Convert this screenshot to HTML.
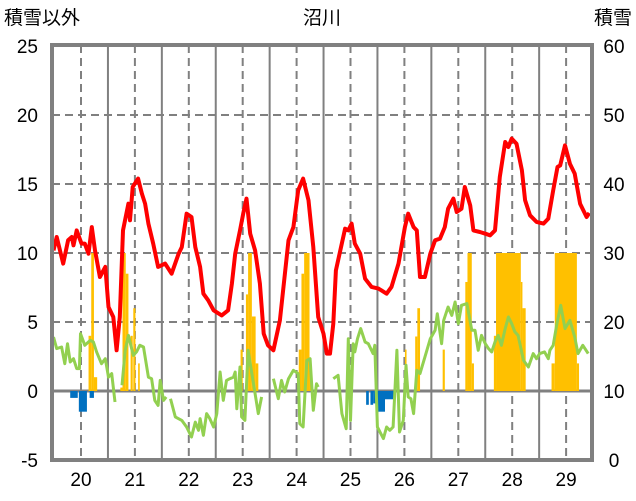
<!DOCTYPE html>
<html><head><meta charset="utf-8"><style>
html,body{margin:0;padding:0;background:#fff;}
svg{display:block;font-family:"Liberation Sans","Noto Sans CJK JP",sans-serif;}
</style></head><body>
<svg id="chart" width="636" height="501" viewBox="0 0 636 501" xmlns="http://www.w3.org/2000/svg">
<text x="4" y="24" font-size="19" fill="#000">積雪以外</text>
<text x="322" y="24" font-size="19" text-anchor="middle" fill="#000">沼川</text>
<text x="632" y="24" font-size="19" text-anchor="end" fill="#000">積雪</text>
<g id="grid"></g>
<g id="bars"></g>
<g id="lines"></g>
<g id="axes"></g>
</svg>
<script>
const xLabels=[20,21,22,23,24,25,26,27,28,29];
const leftTicks=[-5,0,5,10,15,20,25];
const rightTicks=[0,10,20,30,40,50,60];
const redT=[19.49,19.55,19.67,19.76,19.83,19.86,19.92,20.01,20.07,20.14,20.20,20.26,20.35,20.45,20.51,20.60,20.66,20.72,20.78,20.88,20.91,20.96,21.06,21.13,21.19,21.25,21.34,21.43,21.56,21.68,21.81,21.87,21.96,22.05,22.12,22.21,22.27,22.36,22.46,22.61,22.73,22.80,22.86,22.95,23.01,23.07,23.14,23.23,23.32,23.39,23.47,23.57,23.69,23.85,23.94,24.03,24.12,24.22,24.31,24.40,24.50,24.56,24.62,24.68,24.73,24.81,24.90,24.96,25.02,25.08,25.18,25.27,25.39,25.52,25.67,25.76,25.89,26.01,26.07,26.17,26.23,26.29,26.38,26.48,26.57,26.66,26.75,26.81,26.91,26.97,27.06,27.12,27.22,27.28,27.40,27.50,27.59,27.68,27.77,27.87,27.93,27.99,28.08,28.18,28.24,28.33,28.45,28.58,28.67,28.76,28.84,28.89,28.98,29.07,29.16,29.26,29.38,29.43];
const redV=[10.19,11.16,9.23,10.92,11.16,10.56,11.64,10.68,10.68,9.95,11.88,10.19,8.26,8.99,6.09,5.36,2.95,5.36,11.64,13.57,12.37,14.78,15.39,14.30,13.57,12.13,10.68,8.99,9.23,8.50,9.95,10.43,12.85,12.61,10.43,8.99,7.05,6.57,5.85,5.48,5.85,7.78,9.95,11.64,12.85,13.94,11.40,10.19,7.78,4.15,3.31,2.95,5.12,10.92,11.88,14.54,15.39,13.82,10.43,5.36,4.15,2.71,2.71,4.88,8.74,10.19,11.76,11.64,12.13,10.68,9.95,8.14,7.54,7.42,7.05,7.54,9.23,11.88,12.85,11.88,11.64,8.26,8.26,9.95,10.92,11.04,11.88,13.21,13.94,12.97,13.21,14.78,13.45,11.64,11.52,11.40,11.28,11.64,15.51,18.04,17.68,18.29,17.92,15.99,13.82,12.73,12.25,12.13,12.49,14.54,16.23,16.35,17.80,16.47,15.75,13.57,12.61,12.90];
const greenT=[19.49,19.55,19.64,19.70,19.75,19.80,19.86,19.92,19.97,19.99,20.07,20.17,20.23,20.29,20.38,20.45,20.51,20.57,20.63,null,20.76,20.82,20.88,20.97,21.03,21.09,21.16,21.25,21.31,21.37,21.43,21.47,21.53,21.58,null,21.66,21.75,21.87,21.96,22.05,22.12,22.18,22.21,22.27,22.33,22.39,22.46,22.52,22.58,22.64,22.70,22.76,22.83,22.86,22.89,22.95,22.98,23.04,23.10,23.20,23.29,23.35,null,23.57,23.66,23.72,23.78,23.85,23.94,24.03,24.06,24.12,24.19,24.25,24.31,24.37,24.40,null,24.68,24.77,24.84,24.92,24.96,25.00,25.05,25.08,25.13,25.19,25.27,25.33,25.42,25.45,25.50,25.61,25.67,25.73,25.79,25.86,25.91,25.98,26.03,26.07,26.12,26.17,26.23,26.29,26.38,26.48,26.57,26.61,26.69,26.73,26.81,26.88,26.94,27.00,27.06,27.16,27.25,27.31,27.37,27.43,27.50,27.56,27.62,27.68,27.74,27.80,27.87,27.93,27.99,28.05,28.11,28.21,28.30,28.39,28.45,28.51,28.60,28.67,28.70,28.76,28.83,28.90,28.98,29.07,29.16,29.22,29.31,29.41];
const greenV=[3.91,3.07,3.19,1.98,3.43,2.10,2.34,1.62,1.62,4.15,3.31,3.67,3.55,2.83,1.98,2.34,1.01,1.26,-0.80,null,0.41,2.95,4.03,2.58,2.83,3.31,3.19,1.01,0.89,-0.68,-1.04,0.77,-0.68,-0.43,null,-0.56,-1.88,-2.13,-2.61,-3.33,-2.25,-2.85,-2.00,-3.21,-1.64,-2.00,-2.61,-1.64,1.38,-0.68,0.77,0.89,1.01,1.38,-1.28,1.74,-1.88,-2.13,2.95,0.53,-1.64,-0.43,null,0.89,-0.56,0.77,-0.07,0.89,1.50,1.26,-2.37,-2.61,2.22,2.34,-1.40,0.53,0.29,null,0.89,1.14,-1.64,-2.73,3.79,-2.13,3.43,2.83,3.79,4.52,3.55,3.43,2.71,3.31,-2.61,-3.45,-2.61,-2.85,-2.61,2.95,-2.97,-2.13,1.86,-0.43,-0.56,-1.64,1.50,1.26,2.46,3.79,4.40,5.60,3.43,5.12,6.09,5.48,6.45,4.88,6.21,6.33,4.40,4.40,2.95,4.03,3.43,3.07,2.83,3.55,4.03,3.31,4.52,5.36,4.88,4.28,4.03,2.22,1.74,2.71,2.34,2.71,2.83,2.34,2.95,3.31,4.88,6.21,4.52,5.12,3.91,2.71,3.31,2.71];
const snowStart=[20.14,20.19,20.24,20.73,20.77,20.83,20.92,20.97,21.06,22.96,23.06,23.10,23.17,23.24,24.04,24.09,24.14,24.24,26.01,26.20,26.24,26.71,27.13,27.17,27.25,27.66,27.70,28.16,28.19,28.73,28.79,29.20];
const snowEnd=[20.19,20.24,20.30,20.77,20.83,20.88,20.96,21.01,21.09,23.00,23.10,23.17,23.24,23.29,24.09,24.14,24.24,24.26,26.04,26.24,26.29,26.75,27.17,27.25,27.29,27.70,28.16,28.19,28.25,28.79,29.20,29.24];
const snowDepth=[18,30,12,10.5,30,27,18,22,14,16,24,30,20.8,14,16,27,30,14,16,17.9,22,16,25.8,30,14,18,30,25.8,22,14,30,14];
const blueStart=[19.80,19.96,20.16,25.29,25.37,25.42,25.50,25.64];
const blueEnd=[19.94,20.11,20.24,25.34,25.42,25.50,25.64,25.81];
const blueVal=[-0.5,-1.5,-0.5,-1.0,-1.0,-0.9,-1.5,-0.6];

const NS="http://www.w3.org/2000/svg";
const L=52,R=592,T=45,B=460;
const x=t=>81+(t-20)*53.9;
const y=v=>391-v*13.8;
const ys=s=>460-s*6.9;
function mk(tag,parent,attrs){const e=document.createElementNS(NS,tag);for(const k in attrs)e.setAttribute(k,attrs[k]);parent.appendChild(e);return e;}
const grid=document.getElementById('grid'),bars=document.getElementById('bars'),lines=document.getElementById('lines'),axes=document.getElementById('axes');
// grid
leftTicks.forEach(v=>{if(v===-5||v===25)return;
  const g=mk('line',grid,{x1:L,x2:R,y1:y(v),y2:y(v),stroke:'#808080','stroke-width':v===0?3:2,'stroke-dasharray':v===0?'':'8 5'});
  
  });
xLabels.forEach(t=>{
  const d=mk('line',grid,{x1:x(t),x2:x(t),y1:T,y2:B,stroke:'#808080','stroke-width':2,'stroke-dasharray':'8 5'});
  
  
  if(t<29){const s=mk('line',grid,{x1:x(t+0.5),x2:x(t+0.5),y1:T,y2:B,stroke:'#808080','stroke-width':2});
  
  }
});
// bars
snowDepth.forEach((d,i)=>{const r=mk('rect',bars,{x:x(snowStart[i]),width:Math.max(1,x(snowEnd[i])-x(snowStart[i])),y:ys(d),height:ys(0)-ys(d)-0,fill:'#ffc000'});
  r.setAttribute('height',y(0)-ys(d));
  
  });
blueVal.forEach((v,i)=>{const r=mk('rect',bars,{x:x(blueStart[i]),width:x(blueEnd[i])-x(blueStart[i]),y:y(0),height:y(v)-y(0),fill:'#0070c0'});
  
  });
function path(ts,vs){let d='',pen=false;ts.forEach((t,i)=>{if(t===null||vs[i]===null){pen=false;return;}d+=(pen?'L':'M')+x(t).toFixed(1)+' '+y(vs[i]).toFixed(1);pen=true;});return d;}
const gp=mk('path',lines,{d:path(greenT,greenV),fill:'none',stroke:'#92d050','stroke-width':3,'stroke-linejoin':'round'});


const rp=mk('path',lines,{d:path(redT,redV),fill:'none',stroke:'#ff0000','stroke-width':4,'stroke-linejoin':'round'});


// frame
const fr=mk('rect',axes,{x:L,y:T,width:R-L,height:B-T,fill:'none',stroke:'#808080','stroke-width':4});


leftTicks.forEach(v=>{const t=mk('text',axes,{x:38,y:y(v)+7,'font-size':19,'text-anchor':'end',fill:'#000'});t.textContent=v;
  
  });
rightTicks.forEach(s=>{const t=mk('text',axes,{x:614,y:ys(s)+7,'font-size':19,'text-anchor':'middle',fill:'#000'});t.textContent=s;
  
  });
xLabels.forEach(v=>{const t=mk('text',axes,{x:x(v),y:486,'font-size':19,'text-anchor':'middle',fill:'#000'});t.textContent=v;
  
  });
</script>
</body></html>
